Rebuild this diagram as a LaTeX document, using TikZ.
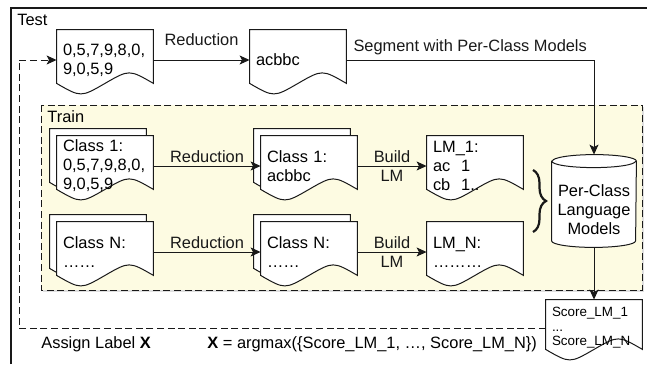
\documentclass[tikz,border=0pt]{standalone}
\usepackage{fontspec}
\setmainfont{Liberation Sans}
\usetikzlibrary{arrows.meta, positioning, calc, backgrounds,
    decorations.pathreplacing, shadows}
\definecolor{trainfill}{RGB}{253,251,226}
\definecolor{inkgray}{RGB}{25,25,25}

% document outline (wavy bottom) round a named node, optional offset
\newcommand{\docpath}[2][0,0]{%
  \path[docline] ($(#2.north west)+(#1)$) -- ($(#2.north east)+(#1)$)
    -- ($(#2.south east)+(#1)+(0,7)$)
    .. controls ($(#2.south east)!0.25!(#2.south west)+(#1)+(0,21)$) .. ($(#2.south)+(#1)+(0,7)$)
    .. controls ($(#2.south east)!0.75!(#2.south west)+(#1)+(0,-7)$) .. ($(#2.south west)+(#1)+(0,7)$)
    -- cycle;}
% cylinder outline round a named node
\newcommand{\cylpath}[1]{%
  \path[docline] ($(#1.north west)+(0,-6.5)$) -- ($(#1.south west)+(0,6.5)$)
    arc[start angle=180, end angle=360, x radius=42, y radius=6.5]
    -- ($(#1.north east)+(0,-6.5)$)
    arc[start angle=0, end angle=180, x radius=42, y radius=6.5] -- cycle;
  \draw[inkgray, line width=0.5pt] ($(#1.north west)+(0,-6.5)$)
    arc[start angle=180, end angle=360, x radius=42, y radius=6.5];}

\begin{document}
\begin{tikzpicture}[x=0.5pt, y=0.5pt,
    font=\fontsize{8.2}{9.5}\selectfont,
    docnode/.style={rectangle, text width=42pt, inner xsep=3pt, inner ysep=1pt,
        minimum height=30pt, align=left},
    scorenode/.style={docnode, minimum height=28pt, font=\fontsize{6.7}{7.3}\selectfont},
    cylbox/.style={rectangle, minimum width=42pt, minimum height=46pt, inner sep=0pt},
    docline/.style={draw=inkgray, fill=white, line width=0.5pt},
    trainbox/.style={draw=inkgray, fill=trainfill, line width=0.5pt,
        dash pattern=on 3.5pt off 1.8pt,
        drop shadow={shadow xshift=1pt, shadow yshift=-1pt, opacity=0.25}},
    arrow/.style={-{Stealth[length=5pt, width=4.5pt, inset=1.2pt]}, line width=0.5pt, inkgray},
    feedback/.style={arrow, dash pattern=on 3.5pt off 1.8pt},
    caption/.style={anchor=west, inner sep=0pt}
]
    \useasboundingbox (0,0) rectangle (647,-364);

    % outer test frame
    \draw[inkgray, line width=0.7pt] (11,-364) |- (647,-8);
    \node[caption] (testlbl)  at (17,-20)  {Test};
    \node[caption] (trainlbl) at (47,-117) {Train};

    % documents
    \node[docnode] (t1)  at (105,-60)  {0,5,7,9,8,0,\\9,0,5,9};
    \node[docnode] (t2)  at (298,-60)  {acbbc};
    \node[docnode] (c1)  at (105,-166) {Class 1:\\0,5,7,9,8,0,\\9,0,5,9};
    \node[docnode] (c1r) at (309,-166) {Class 1:\\acbbc};
    \node[docnode] (lm1) at (475,-166) {LM\_1:\\ac\ \ 1\\cb\ \ 1..};
    \node[docnode] (cN)  at (105,-252) {Class N:\\……};
    \node[docnode] (cNr) at (309,-252) {Class N:\\……};
    \node[docnode] (lmN) at (475,-252) {LM\_N:\\………};
    \node[cylbox] (plm) at (594,-201) {};
    \node[align=center] (plmtext) at ($(plm.center)+(0,-9)$) {Per-Class\\Language\\Models};
    \node[scorenode] (score) at (594,-328) {Score\_LM\_1\\...\\Score\_LM\_N};

    \begin{scope}[on background layer]
        \path[trainbox] (41,-105) rectangle (642,-290);
        \foreach \n in {c1, c1r, cN, cNr} {\docpath[-7,7]{\n}}
        \foreach \n in {t1, t2, c1, c1r, lm1, cN, cNr, lmN, score} {\docpath{\n}}
        \cylpath{plm}
    \end{scope}

    % connectors
    \draw[arrow] (t1) -- node[above=3.8pt] {Reduction} (t2);
    \draw[arrow] (t2.east) -| node[pos=0.25, above=-1pt] {Segment with Per-Class Models} (plm.north);
    \draw[arrow] (c1) -- node[above=-2pt] {Reduction} (c1r);
    \draw[arrow] (cN) -- node[above=-2pt] {Reduction} (cNr);
    \draw[arrow] (c1r) -- node[above=-2pt] {Build} node[below=-1.5pt] {LM} (lm1);
    \draw[arrow] (cNr) -- node[above=-2pt] {Build} node[below=-1.5pt] {LM} (lmN);
    \draw[arrow] (plm.south) -- (score.north);

    \coordinate (bracetop) at (533,-170);
    \coordinate (bracebot) at (533,-232);
    \draw[inkgray, decorate, decoration={brace, amplitude=6.5pt}, line width=1.1pt] (bracetop) -- (bracebot);

    % feedback loop
    \coordinate (back) at (19,0);
    \draw[feedback] (score.west) -| (back |- t1.west) -- (t1.west);
    \node[caption] (assign) at (41,-344) {Assign Label \textbf{X}};
    \node[caption] (argmax) at (207,-344) {\textbf{X} = argmax(\{Score\_LM\_1, …, Score\_LM\_N\})};
\end{tikzpicture}
\end{document}
